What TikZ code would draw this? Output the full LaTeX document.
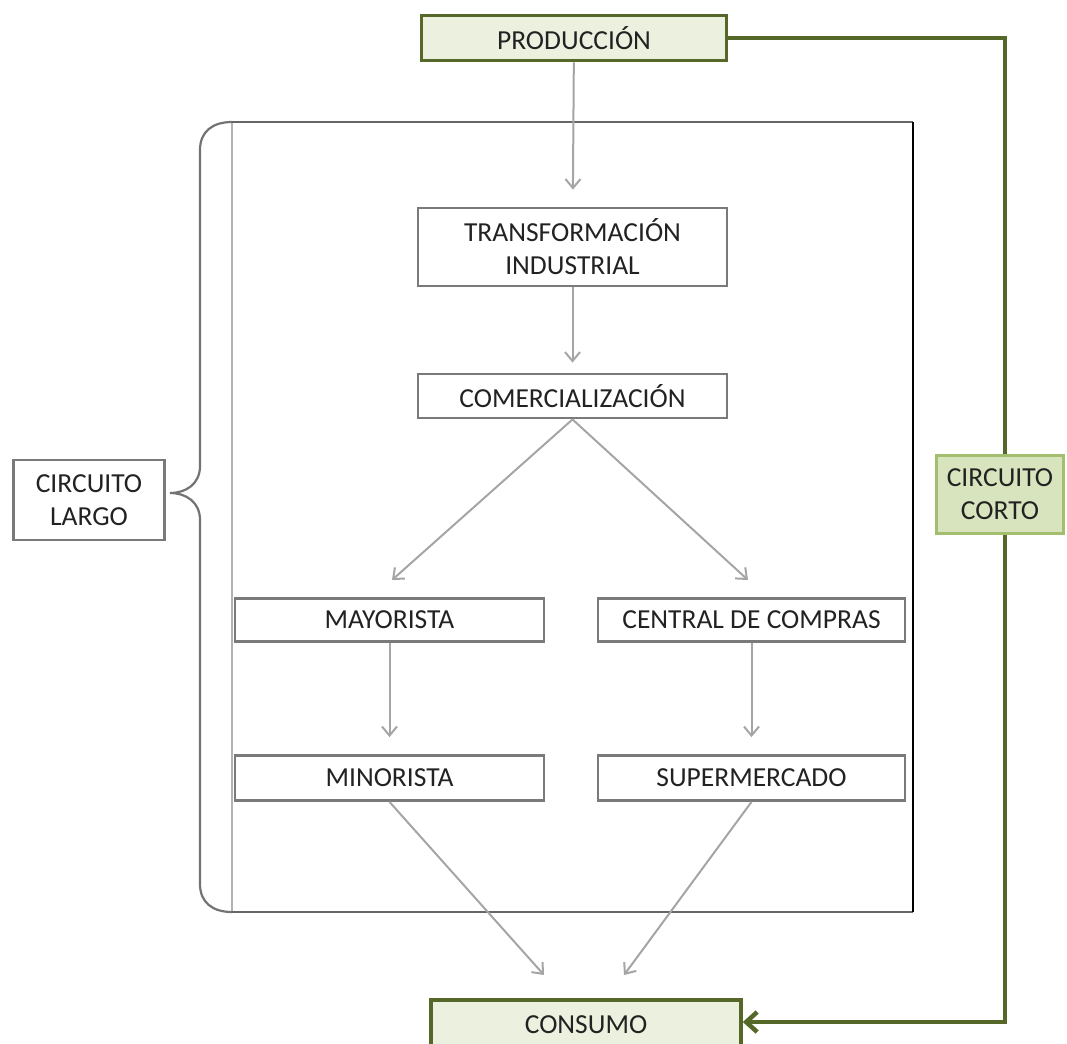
\documentclass[tikz,border=0pt]{standalone}
\usepackage{fontspec}
\setmainfont{Carlito}
\usetikzlibrary{arrows.meta,calc}
\definecolor{boxgray}{HTML}{7A7A7A}
\definecolor{arrgray}{HTML}{A5A5A5}
\definecolor{txtcol}{HTML}{222222}
\definecolor{gfill}{HTML}{EBF1DE}
\definecolor{gdraw}{HTML}{56672A}
\definecolor{cfill}{HTML}{D7E4BD}
\definecolor{cdraw}{HTML}{A3BF6E}
\tikzset{
  box/.style={draw=boxgray, line width=2.8pt, fill=white, inner sep=0pt, text=txtcol,
    font=\fontsize{27.5}{33}\selectfont, align=center},
  gbox/.style={box, draw=gdraw, fill=gfill, line width=3.6pt},
  cbox/.style={box, draw=cdraw, fill=cfill, line width=3pt},
  arr/.style={draw=arrgray, line width=2pt, -{Straight Barb[length=9pt,width=15pt]}},
  gline/.style={draw=gdraw, line width=4.5pt},
  brace/.style={draw=black!55, line width=2.2pt}
}
\begin{document}
\begin{tikzpicture}[x=1pt,y=-1pt]
\useasboundingbox (0,0) rectangle (1067,1043);
% frame
\coordinate (fnw) at (232,122);
\coordinate (fne) at (913,122);
\coordinate (fse) at (913,912);
\coordinate (fsw) at (232,912);
\draw[black!30, line width=1.4pt] (fnw) -- (fsw);
\draw[black!60, line width=1.4pt] (fsw) -- (fse);
\draw[black!60, line width=1.4pt] (fnw) -- (fne);
\draw[black, line width=1.4pt] (fne) -- (fse);
% brace
\coordinate (btip) at (170,493);
\draw[brace] (fnw) .. controls (212,122) and (200,132) .. (200,150)
  -- (200,466) .. controls (200,484) and (186,493) .. (btip)
  .. controls (186,493) and (200,502) .. (200,520)
  -- (200,884) .. controls (200,902) and (212,912) .. (fsw);
% nodes
\node[gbox, minimum width=305, minimum height=45] (prod) at (574,38) {PRODUCCIÓN};
\node[box, minimum width=309, minimum height=78] (trans) at (572.5,247) {TRANSFORMACIÓN\\INDUSTRIAL};
\node[box, minimum width=309, minimum height=44] (comer) at (572.5,396) {COMERCIALIZACIÓN};
\node[box, minimum width=309, minimum height=43] (mayor) at (389.5,620) {MAYORISTA};
\node[box, minimum width=307, minimum height=43] (central) at (751.5,620) {CENTRAL DE COMPRAS};
\node[box, minimum width=309, minimum height=45] (minor) at (389.5,778) {MINORISTA};
\node[box, minimum width=307, minimum height=45] (super) at (751.5,778) {SUPERMERCADO};
\node[gbox, minimum width=310, minimum height=64, text depth=14pt] (cons) at (586,1032) {CONSUMO};
\node[cbox, minimum width=127, minimum height=78] (corto) at (1000,494) {CIRCUITO\\CORTO};
\node[box, minimum width=151, minimum height=80] (largo) at (89,500) {CIRCUITO\\LARGO};
% gray arrows
\draw[arr, shorten >=17pt] (prod) -- (trans);
\draw[arr, shorten >=10pt] (trans) -- (comer);
\coordinate (t1) at (392,580);
\coordinate (t2) at (748,580);
\draw[arr] (comer.south) -- (t1);
\draw[arr] (comer.south) -- (t2);
\draw[arr, shorten >=17pt] (mayor) -- (minor);
\draw[arr, shorten >=17pt] (central) -- (super);
\coordinate (t3) at (544,975);
\coordinate (t4) at (624,975);
\draw[arr] (minor.south) -- (t3);
\draw[arr] (super.south) -- (t4);
% green connector
\coordinate (gx) at (1005,0);
\coordinate (cin) at ($(cons.east)+(0,-10)$);
\draw[gline] (prod.east) -| (gx |- corto.north);
\draw[gline, -{Straight Barb[length=11pt,width=20pt]}] (gx |- corto.south) |- (cin);
\end{tikzpicture}
\end{document}
